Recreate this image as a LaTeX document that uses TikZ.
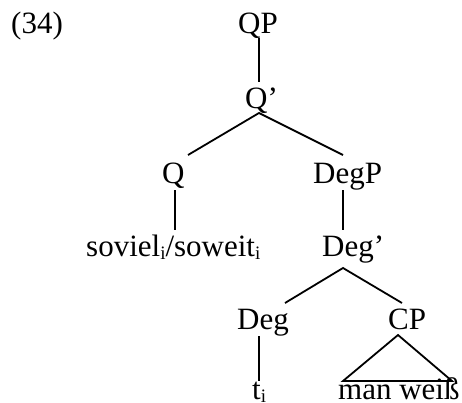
\documentclass[tikz,border=0pt]{standalone}
\usepackage{fontspec}
\setmainfont{Liberation Serif}
\newcommand\sbi{\raisebox{-0.1em}{\fontsize{19}{19}\selectfont i}}
\begin{document}
\begin{tikzpicture}[x=1pt,y=-1pt,
  lab/.style={inner sep=0pt,anchor=base west,font=\fontsize{31}{31}\selectfont},
  edge/.style={line width=1.8pt}]
\useasboundingbox (0,0) rectangle (462,403);
% labels
\node[lab] (ex) at (11,34) {(34)};
\node[lab] (QP) at (238,34) {QP};
\node[lab] (Qb) at (245,109) {Q’};
\node[lab] (Q) at (162,183) {Q};
\node[lab] (DegP) at (313,183) {DegP};
\node[lab] (sov) at (86,256) {soviel\sbi/soweit\sbi};
\node[lab] (Degb) at (322,256) {Deg’};
\node[lab] (Deg) at (237,329) {Deg};
\node[lab] (CP) at (388,329) {CP};
\node[lab] (t) at (252,399) {t\sbi};
\node[lab] (mw) at (338,399) {man weiß};
% connector ends
\coordinate (QPs) at (259,38);
\coordinate (Qbn) at (259,82);
\coordinate (Qbs) at (259,113);
\coordinate (Qn) at (188,155);
\coordinate (DegPn) at (343,155);
\coordinate (Qs) at (175,190);
\coordinate (sovn) at (175,230);
\coordinate (DegPs) at (343,190);
\coordinate (Degbn) at (343,230);
\coordinate (Degbs) at (343,268);
\coordinate (Degn) at (285,303);
\coordinate (CPn) at (402,303);
\coordinate (Degs) at (259,336);
\coordinate (tn) at (259,381);
\coordinate (CPs) at (398,335);
\coordinate (mwl) at (343,381);
\coordinate (mwr) at (452,381);
% connectors
\draw[edge] (QPs) -- (Qbn);
\draw[edge] (Qn) -- (Qbs) -- (DegPn);
\draw[edge] (Qs) -- (sovn);
\draw[edge] (DegPs) -- (Degbn);
\draw[edge] (Degn) -- (Degbs) -- (CPn);
\draw[edge] (Degs) -- (tn);
\draw[edge] (CPs) -- (mwl) -- (mwr) -- cycle;
\end{tikzpicture}
\end{document}
